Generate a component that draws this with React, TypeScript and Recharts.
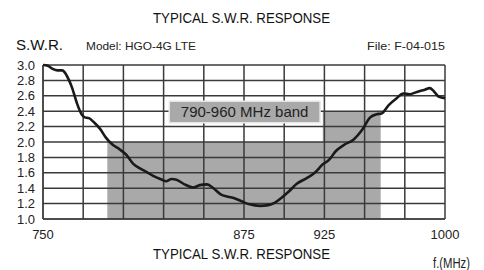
import React from "react";
import {
  ComposedChart,
  Line,
  XAxis,
  YAxis,
  ReferenceLine,
  ReferenceArea,
} from "recharts";

// ---- data ----
const freqMHz = [
  750, 753, 756, 759, 762, 764, 766, 768, 771, 774, 776, 778.5, 781.5, 785.5,
  789, 793, 798, 802, 806, 810, 814.5, 818.5, 824, 826.5, 830, 833, 838, 843.5,
  847.5, 852, 856, 860.5, 865, 869, 873.5, 878.5, 885, 890, 894, 898, 902.5,
  908, 914, 919, 924, 928, 932, 937, 943, 948.5, 953.5, 957.5, 960.5, 965, 970,
  974, 978, 982.5, 987.5, 990.5, 993, 996, 1000,
];
const swrValues = [
  3.0, 2.99, 2.95, 2.93, 2.93, 2.89, 2.81, 2.71, 2.51, 2.36, 2.32, 2.31, 2.26,
  2.17, 2.06, 1.97, 1.9, 1.83, 1.72, 1.66, 1.61, 1.56, 1.51, 1.49, 1.52, 1.51,
  1.45, 1.41, 1.44, 1.45, 1.4, 1.32, 1.29, 1.27, 1.23, 1.19, 1.17, 1.18, 1.21,
  1.27, 1.35, 1.46, 1.53, 1.6, 1.71, 1.77, 1.88, 1.96, 2.03, 2.16, 2.32, 2.36,
  2.37, 2.48, 2.57, 2.63, 2.62, 2.65, 2.68, 2.7, 2.66, 2.59, 2.57,
];
const xTicks = [750, 775, 800, 825, 850, 875, 900, 925, 950, 975, 1000];
const xLabeled = [750, 875, 925, 1000];
const yTicks = [1.0, 1.2, 1.4, 1.6, 1.8, 2.0, 2.2, 2.4, 2.6, 2.8, 3.0];
// band: 790-960 MHz (lower part up to 2.0, upper part from 924 up to 2.4)
const bandLow = { x1: 790, x2: 960, y1: 1.0, y2: 2.0 };
const bandHigh = { x1: 924, x2: 960, y1: 2.0, y2: 2.4 };
const bandLabelBox = { x1: 828.5, x2: 922.3, y1: 2.25, y2: 2.53 };
const bandLabel = "790-960 MHz band";

const data = freqMHz.map((f, i) => ({ f, swr: swrValues[i] }));

const FONT = "'Liberation Sans', Arial, sans-serif";
const GRID = "#3a3a3a";

// Label box drawn from a reference-line segment (corners from the chart's scales),
// so that it is painted after (above) the grid lines.
const LabelBoxShape = (props: any) => {
  const { x1, y1, x2, y2 } = props;
  if ([x1, y1, x2, y2].some((v) => typeof v !== "number" || isNaN(v))) return null;
  const x = Math.min(x1, x2);
  const y = Math.min(y1, y2);
  const w = Math.abs(x2 - x1);
  const h = Math.abs(y2 - y1);
  return (
    <g>
      <rect x={x} y={y} width={w} height={h} fill="#a9a9a9" stroke="#e8e8e8" strokeWidth={1.5} />
      <text
        x={x + w / 2}
        y={y + h / 2}
        textAnchor="middle"
        dominantBaseline="central"
        fontSize={15}
        fontFamily={FONT}
        fill="#222"
      >
        {bandLabel}
      </text>
    </g>
  );
};

export default function App() {
  return (
    <div
      style={{
        position: "fixed",
        left: 0,
        top: 0,
        width: 484,
        height: 270,
        background: "#ffffff",
      }}
    >
      <svg
        width={484}
        height={270}
        style={{ position: "absolute", left: 0, top: 0 }}
      >
        <text
          x={241.5}
          y={23}
          textAnchor="middle"
          fontSize={15}
          fontFamily={FONT}
          fill="#111"
          textLength={177}
          lengthAdjust="spacingAndGlyphs"
        >
          TYPICAL S.W.R. RESPONSE
        </text>
        <text x={16} y={50} fontSize={14} fontFamily={FONT} fill="#111" textLength={47} lengthAdjust="spacingAndGlyphs">
          S.W.R.
        </text>
        <text x={86} y={50} fontSize={11} fontFamily={FONT} fill="#222" textLength={110} lengthAdjust="spacingAndGlyphs">
          Model: HGO-4G LTE
        </text>
        <text x={367} y={50} fontSize={11} fontFamily={FONT} fill="#222" textLength={78} lengthAdjust="spacingAndGlyphs">
          File:  F-04-015
        </text>
        <text
          x={241.5}
          y={259}
          textAnchor="middle"
          fontSize={15}
          fontFamily={FONT}
          fill="#111"
          textLength={177}
          lengthAdjust="spacingAndGlyphs"
        >
          TYPICAL S.W.R. RESPONSE
        </text>
        <text x={433} y={268} fontSize={14} fontFamily={FONT} fill="#222" textLength={37} lengthAdjust="spacingAndGlyphs">
          f.(MHz)
        </text>
      </svg>
      <div style={{ position: "absolute", left: 0, top: 0 }}>
        <ComposedChart
          width={484}
          height={270}
          data={data}
          margin={{ top: 65, right: 39, bottom: 21, left: 0 }}
        >
          <XAxis
            dataKey="f"
            type="number"
            domain={[750, 1000]}
            ticks={xTicks}
            interval={0}
            tickLine={false}
            axisLine={{ stroke: "#333" }}
            height={30}
            tickMargin={5}
            tickFormatter={(v: number) => (xLabeled.includes(v) ? String(v) : "")}
            tick={{ fill: "#222", fontSize: 13, fontFamily: FONT }}
          />
          <YAxis
            type="number"
            domain={[1.0, 3.0]}
            ticks={yTicks}
            interval={0}
            width={43}
            tickLine={false}
            axisLine={{ stroke: "#333" }}
            tickFormatter={(v: number) => v.toFixed(1)}
            tick={{ fill: "#222", fontSize: 13, fontFamily: FONT }}
          />
          <ReferenceArea {...bandLow} fill="#a9a9a9" fillOpacity={1} stroke="none" />
          <ReferenceArea {...bandHigh} fill="#a9a9a9" fillOpacity={1} stroke="none" />
          {xTicks.map((t) => (
            <ReferenceLine key={"vx" + t} x={t} stroke={GRID} strokeWidth={1.5} />
          ))}
          {yTicks.map((t) => (
            <ReferenceLine key={"hy" + t} y={t} stroke={GRID} strokeWidth={1.5} />
          ))}
          <ReferenceLine
            segment={[
              { x: bandLabelBox.x1, y: bandLabelBox.y2 },
              { x: bandLabelBox.x2, y: bandLabelBox.y1 },
            ]}
            shape={LabelBoxShape}
            stroke="none"
          />
          <Line
            type="monotone"
            dataKey="swr"
            stroke="#1a1a1a"
            strokeWidth={2.6}
            dot={false}
            isAnimationActive={false}
          />
        </ComposedChart>
      </div>
    </div>
  );
}
